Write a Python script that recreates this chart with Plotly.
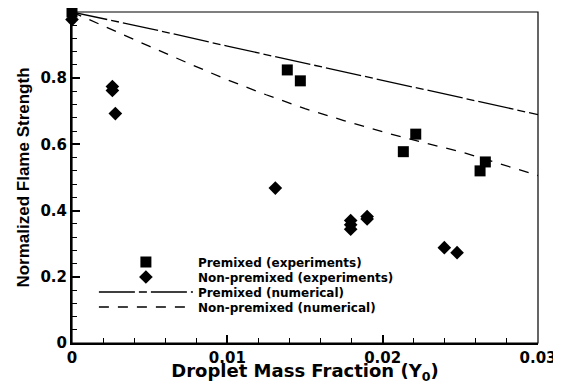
import plotly.graph_objects as go

# ---- data ----
pre_exp_x = [0.0, 0.01386, 0.0147, 0.02213, 0.02133, 0.02661, 0.02627]
pre_exp_y = [1.0, 0.825, 0.792, 0.631, 0.578, 0.547, 0.520]

non_exp_x = [0.0, 0.0026, 0.0026, 0.00279, 0.01309, 0.01794, 0.01794, 0.01794, 0.0190, 0.0190, 0.02397, 0.02479]
non_exp_y = [0.977, 0.775, 0.763, 0.693, 0.468, 0.370, 0.357, 0.344, 0.382, 0.375, 0.288, 0.273]

pre_num_x = [0.0, 0.005, 0.01, 0.015, 0.02, 0.025, 0.03]
pre_num_y = [1.0, 0.950, 0.897, 0.845, 0.792, 0.740, 0.690]

non_num_x = [0.0, 0.0025, 0.005, 0.0075, 0.01, 0.0125, 0.015, 0.0175, 0.02, 0.0225, 0.025, 0.0275, 0.03]
non_num_y = [1.0, 0.947, 0.896, 0.845, 0.795, 0.750, 0.708, 0.672, 0.638, 0.607, 0.578, 0.542, 0.506]

x_ticks = [0, 0.01, 0.02, 0.03]
x_tick_labels = ["0", "0.01", "0.02", "0.03"]
y_ticks = [0, 0.2, 0.4, 0.6, 0.8, 1.0]
y_tick_labels = ["0", "0.2", "0.4", "0.6", "0.8", "1"]

WIDE = "DejaVu Sans, Liberation Sans, Arial, sans-serif"
NARROW = "Liberation Sans, Arial, sans-serif"

fig = go.Figure()
fig.add_trace(go.Scatter(
    x=pre_exp_x, y=pre_exp_y, mode="markers", name="Premixed (experiments)",
    cliponaxis=False, legend="legend",
    marker=dict(symbol="square", size=11, color="black")))
fig.add_trace(go.Scatter(
    x=non_exp_x, y=non_exp_y, mode="markers", name="Non-premixed (experiments)",
    cliponaxis=False, legend="legend2",
    marker=dict(symbol="diamond", size=10.5, color="black")))
fig.add_trace(go.Scatter(
    x=pre_num_x, y=pre_num_y, mode="lines", name="Premixed (numerical)",
    legend="legend3",
    line=dict(color="black", width=1.3, dash="36px,4px,8px,4px")))
fig.add_trace(go.Scatter(
    x=non_num_x, y=non_num_y, mode="lines", name="Non-premixed (numerical)",
    legend="legend4",
    line=dict(color="black", width=1.3, dash="10px,9px")))


def legend_box(yc):
    return dict(
        x=0.047, y=yc, xanchor="left", yanchor="middle",
        bgcolor="rgba(0,0,0,0)", borderwidth=0,
        font=dict(family=WIDE, size=12, weight="bold", color="black"),
        itemwidth=94,
    )


fig.update_layout(
    template="none",
    width=553, height=376,
    margin=dict(l=64, r=23, t=4, b=41, autoexpand=False),
    paper_bgcolor="white", plot_bgcolor="white",
    font=dict(family=WIDE, color="black"),
    showlegend=True,
    legend=legend_box(0.2447),
    legend2=legend_box(0.1994),
    legend3=legend_box(0.1541),
    legend4=legend_box(0.1088),
    xaxis=dict(
        range=[0, 0.03], tickvals=x_ticks, ticktext=x_tick_labels,
        automargin=False,
        showgrid=False, zeroline=False,
        showline=True, linecolor="black", linewidth=2,
        ticks="inside", ticklen=8, tickwidth=1.5, tickcolor="black",
        minor=dict(dtick=0.002, ticks="inside", ticklen=5, tickwidth=1, tickcolor="black", showgrid=False),
        tickfont=dict(family=WIDE, size=15, weight="bold", color="black"),
        title=dict(text="Droplet Mass Fraction (Y<sub>0</sub>)", standoff=0,
                   font=dict(family=WIDE, size=18, weight="bold", color="black")),
    ),
    yaxis=dict(
        range=[0, 1.0], tickvals=y_ticks, ticktext=y_tick_labels,
        automargin=False,
        showgrid=False, zeroline=False,
        showline=True, linecolor="black", linewidth=2,
        ticks="inside", ticklen=8, tickwidth=1.5, tickcolor="black",
        minor=dict(dtick=0.04, ticks="inside", ticklen=5, tickwidth=1, tickcolor="black", showgrid=False),
        tickfont=dict(family=WIDE, size=15, weight="bold", color="black"),
        title=dict(text="Normalized Flame Strength", standoff=6,
                   font=dict(family=NARROW, size=17, weight="bold", color="black")),
    ),
    shapes=[dict(type="rect", xref="paper", yref="paper", x0=0, y0=0, x1=1, y1=1,
                 line=dict(color="black", width=1.2), layer="above")],
)

fig.write_html("out.html")
